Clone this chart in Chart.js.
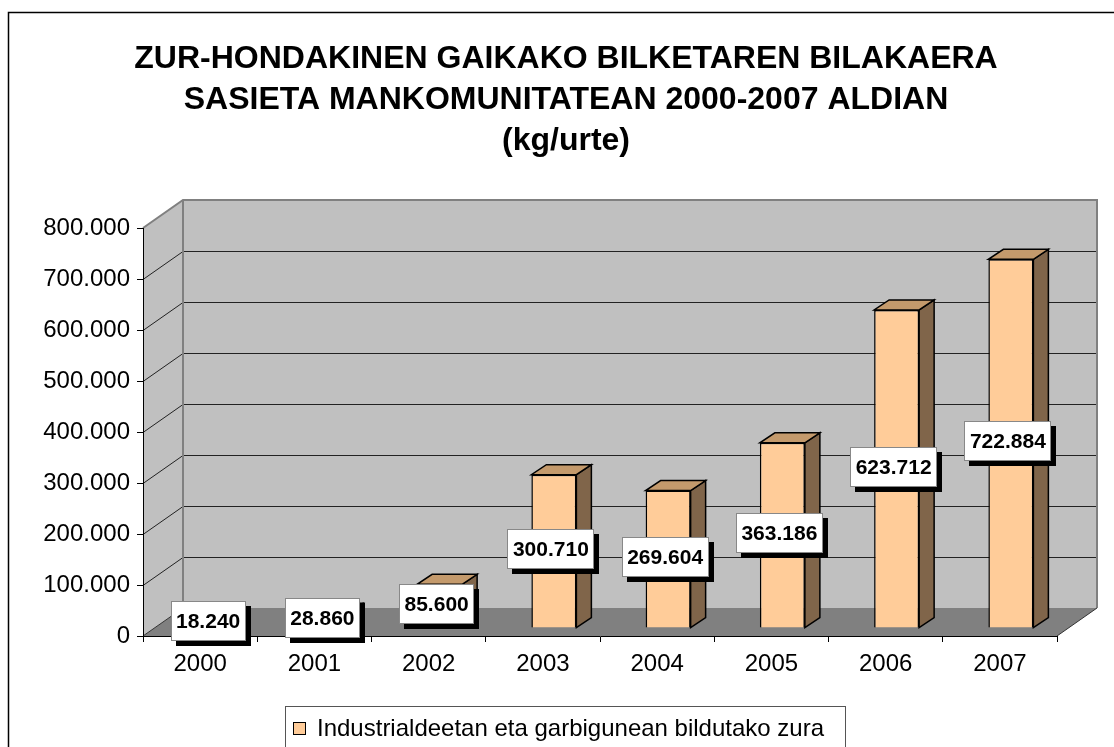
<!DOCTYPE html>
<html>
<head>
<meta charset="utf-8">
<script src="https://cdn.jsdelivr.net/npm/chart.js@4.4.1/dist/chart.umd.min.js"></script>
<style>
  html, body { margin: 0; padding: 0; background: #fff; }
  #wrap { width: 1114px; height: 747px; }
</style>
</head>
<body>
<div id="wrap"><canvas id="chart" width="1114" height="747"></canvas></div>
<script>
// Data
const years = ['2000', '2001', '2002', '2003', '2004', '2005', '2006', '2007'];
const amounts = [18240, 28860, 85600, 300710, 269604, 363186, 623712, 722884];
const yMax = 800000;
const yStep = 100000;

const titleLines = [
    'ZUR-HONDAKINEN GAIKAKO BILKETAREN BILAKAERA',
    'SASIETA MANKOMUNITATEAN 2000-2007 ALDIAN',
    '(kg/urte)'
];
const seriesName = 'Industrialdeetan eta garbigunean bildutako zura';

// 3D look
const wallDx = 40, wallDy = -28;   // depth of the back wall
const barDx = 11, barDy = -8;      // where the bar front faces sit
const depthDx = 15, depthDy = -10; // depth of each bar
const FONT = '"Liberation Sans", Arial, sans-serif';

// 18240 -> "18.240"
function fmt(n) {
    return String(n).replace(/\B(?=(\d{3})+(?!\d))/g, '.');
}

function poly(ctx, pts, fill, stroke, lw) {
    ctx.beginPath();
    ctx.moveTo(pts[0][0], pts[0][1]);
    for (let i = 1; i < pts.length; i++) ctx.lineTo(pts[i][0], pts[i][1]);
    ctx.closePath();
    if (fill) { ctx.fillStyle = fill; ctx.fill(); }
    if (stroke) { ctx.strokeStyle = stroke; ctx.lineWidth = lw || 1; ctx.stroke(); }
}

// background, title, walls, floor, legend
const backdrop = {
    id: 'backdrop',
    beforeDraw(chart) {
        const ctx = chart.ctx;
        const a = chart.chartArea;
        const y = chart.scales.y;
        ctx.save();
        ctx.fillStyle = '#fff';
        ctx.fillRect(0, 0, chart.width, chart.height);

        // outer border (right and bottom are off the page)
        ctx.strokeStyle = '#000';
        ctx.lineWidth = 1.5;
        ctx.strokeRect(8.5, 12.5, 1114, 800);

        // title
        ctx.fillStyle = '#000';
        ctx.font = 'bold 32px ' + FONT;
        ctx.textAlign = 'center';
        ctx.textBaseline = 'alphabetic';
        titleLines.forEach((t, i) => ctx.fillText(t, 566, 68 + i * 41));

        const L = a.left, R = a.right, T = a.top, B = a.bottom;
        // left wall
        poly(ctx, [[L, T], [L + wallDx, T + wallDy], [L + wallDx, B + wallDy], [L, B]], '#C0C0C0');
        // back wall
        poly(ctx, [[L + wallDx, T + wallDy], [R + wallDx, T + wallDy], [R + wallDx, B + wallDy], [L + wallDx, B + wallDy]], '#C0C0C0');

        // gridlines on back and side walls
        ctx.strokeStyle = '#222';
        ctx.lineWidth = 1;
        for (let v = yStep; v < yMax; v += yStep) {
            const py = Math.round(y.getPixelForValue(v)) + 0.5;
            ctx.beginPath();
            ctx.moveTo(L, py);
            ctx.lineTo(L + wallDx, py + wallDy);
            ctx.lineTo(R + wallDx, py + wallDy);
            ctx.stroke();
        }

        // floor
        poly(ctx, [[L, B], [R, B], [R + wallDx, B + wallDy], [L + wallDx, B + wallDy]], '#808080');

        // wall edges
        ctx.strokeStyle = '#808080';
        ctx.lineWidth = 2;
        ctx.beginPath();
        ctx.moveTo(L, T);
        ctx.lineTo(L + wallDx, T + wallDy);
        ctx.lineTo(R + wallDx, T + wallDy);
        ctx.lineTo(R + wallDx, B + wallDy);
        ctx.moveTo(L + wallDx, T + wallDy);
        ctx.lineTo(L + wallDx, B + wallDy);
        ctx.stroke();
        ctx.strokeStyle = '#333';
        ctx.lineWidth = 1;
        ctx.beginPath();
        ctx.moveTo(L, B);
        ctx.lineTo(L + wallDx, B + wallDy);
        ctx.moveTo(R, B);
        ctx.lineTo(R + wallDx, B + wallDy);
        ctx.stroke();

        // legend
        ctx.strokeStyle = '#555';
        ctx.lineWidth = 1;
        ctx.fillStyle = '#fff';
        ctx.fillRect(285.5, 706.5, 560, 60);
        ctx.strokeRect(285.5, 706.5, 560, 60);
        ctx.fillStyle = '#FFCC99';
        ctx.fillRect(293.5, 722.5, 12, 12);
        ctx.strokeStyle = '#000';
        ctx.strokeRect(293.5, 722.5, 12, 12);
        ctx.fillStyle = '#000';
        ctx.font = '24px ' + FONT;
        ctx.textAlign = 'left';
        ctx.fillText(seriesName, 317, 736);
        ctx.restore();
    }
};

// bars are pushed back into the box and get a top and a side face
const bars3d = {
    id: 'bars3d',
    beforeDatasetDraw(chart, args) {
        const ctx = chart.ctx;
        ctx.save();
        ctx.translate(barDx, barDy);
        args.meta.data.forEach(el => {
            const l = el.x - el.width / 2, r = el.x + el.width / 2;
            const t = el.y, b = el.base;
            ctx.lineJoin = 'miter';
            poly(ctx, [[r, t], [r + depthDx, t + depthDy], [r + depthDx, b + depthDy], [r, b]], '#80654A', '#000', 1.5);
            poly(ctx, [[l, t], [r, t], [r + depthDx, t + depthDy], [l + depthDx, t + depthDy]], '#C49A6C', '#000', 1.5);
        });
    },
    afterDatasetDraw(chart) {
        chart.ctx.restore();
    },
    afterDatasetsDraw(chart) {
        const ctx = chart.ctx;
        const meta = chart.getDatasetMeta(0);
        ctx.save();
        ctx.font = 'bold 21px ' + FONT;
        ctx.textAlign = 'center';
        ctx.textBaseline = 'middle';
        meta.data.forEach((el, i) => {
            const txt = fmt(amounts[i]);
            const cx = el.x + barDx - 3;
            const cy = (el.y + el.base) / 2 + barDy - 2;
            const w = Math.round(ctx.measureText(txt).width + 11);
            const h = 40;
            const x0 = Math.round(cx - w / 2), y0 = Math.round(cy - h / 2);
            ctx.fillStyle = '#000';
            ctx.fillRect(x0 + 5, y0 + 5, w, h);
            ctx.fillStyle = '#fff';
            ctx.fillRect(x0, y0, w, h);
            ctx.strokeStyle = '#888';
            ctx.lineWidth = 1;
            ctx.strokeRect(x0 + 0.5, y0 + 0.5, w - 1, h - 1);
            ctx.fillStyle = '#000';
            ctx.fillText(txt, cx, cy + 1);
        });
        ctx.restore();
    }
};

new Chart(document.getElementById('chart').getContext('2d'), {
    type: 'bar',
    data: {
        labels: years,
        datasets: [{
            label: seriesName,
            data: amounts,
            backgroundColor: '#FFCC99',
            borderColor: '#000',
            borderWidth: 1.5,
            categoryPercentage: 1,
            barPercentage: 0.394,
            clip: false
        }]
    },
    options: {
        responsive: false,
        animation: false,
        layout: { padding: { top: 228, right: 57, bottom: 0, left: 0 } },
        plugins: {
            legend: { display: false },
            title: { display: false },
            tooltip: { enabled: false }
        },
        scales: {
            x: {
                grid: { offset: true, drawOnChartArea: false, tickLength: 6, color: '#000' },
                border: { display: true, color: '#000', width: 1 },
                ticks: { color: '#000', font: { family: FONT, size: 24 }, padding: 8 },
                afterFit: s => { s.height = 111; }
            },
            y: {
                min: 0,
                max: yMax,
                grid: { drawOnChartArea: false, tickLength: 6, color: '#000' },
                border: { display: true, color: '#000', width: 1 },
                ticks: {
                    stepSize: yStep,
                    color: '#000',
                    font: { family: FONT, size: 24 },
                    padding: 7,
                    callback: v => fmt(v)
                },
                afterFit: s => { s.width = 143; }
            }
        }
    },
    plugins: [backdrop, bars3d]
});
</script>
</body>
</html>
